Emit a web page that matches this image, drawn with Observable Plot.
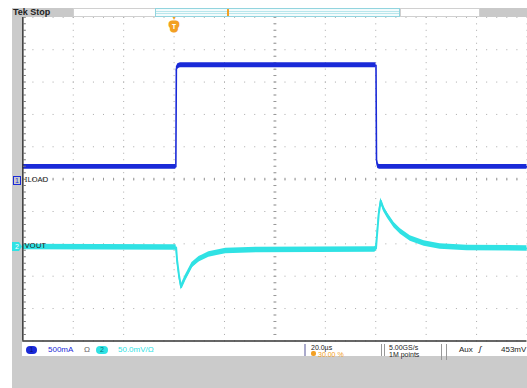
<!DOCTYPE html>
<html><head><meta charset="utf-8">
<script src="https://cdn.jsdelivr.net/npm/d3@7"></script>
<script src="https://cdn.jsdelivr.net/npm/@observablehq/plot@0.6"></script>
<style>
html,body{margin:0;padding:0;width:527px;height:388px;overflow:hidden;background:#fff;font-family:"Liberation Sans",Arial,sans-serif}
#wrap{position:relative;width:527px;height:388px;overflow:hidden;background:#fff}
.abs{position:absolute;box-sizing:border-box;white-space:nowrap;font-size:8px;line-height:8px}
#chart{position:absolute;left:0;top:0}
</style></head>
<body><div id="wrap">
<div class="abs" style="left:12px;top:8px;width:10px;height:380px;background:#cbcbcb"></div>
<div class="abs" style="left:12px;top:356px;width:515px;height:32px;background:#cbcbcb"></div>
<div id="chart"></div>
</div>
<script>
// ---- data read from the scope capture ----
const timeTicks = [-60, -40, -20, 0, 20, 40, 60, 80, 100, 120, 140]; // µs, 20 µs/div
const divTicks = [-5, -4, -3, -2, -1, 0, 1, 2, 3, 4, 5];
const iloadTime = [-60, 0.7, 0.9, 1.5, 2.5, 80.1, 80.3, 80.8, 81.5, 140];
const iloadMA   = [190, 190, 1700, 1745, 1760, 1760, 300, 200, 190, 190];
const voutTime = [-60, 0.8, 1.2, 2.0, 2.8, 4.4, 7.1, 9.9, 13.8, 20.5, 33.5, 79.6, 80.1, 80.4, 81.2, 82.0, 83.1, 84.7, 87.3, 89.8, 93.7, 99.2, 105.5, 116.2, 140];
const voutMV   = [-2.3, -3, -23, -47.6, -64.4, -50.6, -30.7, -21.5, -13.8, -8.4, -6.9, -6.1, -4.6, 10.7, 49, 69, 56.8, 46, 31.1, 21.5, 10.7, 3.1, -1.5, -3.8, -4.6];
// channel settings
const ch1Scale = 500, ch1Offset = 0;      // mA/div, div
const ch2Scale = 50,  ch2Offset = -2.05;  // mV/div, div
const triggerTime = [0];

const iload = iloadTime.map((t, i) => ({t, div: iloadMA[i] / ch1Scale + ch1Offset}));
const vout = voutTime.map((t, i) => ({t, div: voutMV[i] / ch2Scale + ch2Offset}));

const blue = "#1a2ad8", cyan = "#30e2e4", orange = "#f2a024";
const bandB = 0.075, bandC = 0.085; // noise band half-width (div)

const chart = Plot.plot({
  width: 531, height: 388,
  marginLeft: 22.5, marginRight: 0.5, marginTop: 17, marginBottom: 45,
  x: {domain: [-60, 140], axis: null},
  y: {domain: [-5, 5], axis: null},
  style: {background: "transparent", overflow: "visible"},
  marks: [
    Plot.frame({fill: "white", stroke: null}),
    Plot.ruleX(timeTicks, {stroke: "#a8a8a8", strokeWidth: 1, strokeDasharray: "1,5.52"}),
    Plot.ruleY(divTicks, {stroke: "#a8a8a8", strokeWidth: 1, strokeDasharray: "1,9.16"}),
    Plot.ruleX([40], {stroke: "#999", strokeWidth: 3, strokeDasharray: "1,5.52"}),
    Plot.ruleY([0], {stroke: "#999", strokeWidth: 3, strokeDasharray: "1,9.16"}),
    Plot.areaY(vout, {x: "t", y1: d => d.div - bandC, y2: d => d.div + bandC, fill: cyan}),
    Plot.line(vout, {x: "t", y: "div", stroke: cyan, strokeWidth: 2}),
    Plot.areaY(iload, {x: "t", y1: d => d.div - bandB, y2: d => d.div + bandB, fill: blue}),
    Plot.line(iload, {x: "t", y: "div", stroke: blue, strokeWidth: 1.6}),
    Plot.ruleX([-60], {stroke: "#333", strokeWidth: 1.5}),
    Plot.ruleX([-60], {stroke: "#777", strokeWidth: 3, dx: 1.5, strokeDasharray: "1,5.52"}),
    Plot.ruleY([-5], {stroke: "#333", strokeWidth: 1.5}),
    Plot.text(triggerTime, {x: d => d, frameAnchor: "top", dy: -2, text: () => "▼", fill: orange, fontSize: 6}),
    Plot.text(triggerTime, {x: d => d, frameAnchor: "top", dy: 7, text: () => "T", fill: "#fff", stroke: orange, strokeWidth: 7, paintOrder: "stroke", fontSize: 7, fontWeight: "bold"}),
    Plot.text([ch1Offset], {y: d => d, frameAnchor: "left", dx: 2, text: () => "ILOAD", fill: "#222", fontSize: 8}),
    Plot.text([ch2Offset], {y: d => d, frameAnchor: "left", dx: 2, text: () => "VOUT", fill: "#222", fontSize: 8})
  ]
});
document.getElementById("chart").appendChild(chart);

const wrap = document.getElementById("wrap");
function box(style, html = "") {
  const d = document.createElement("div");
  d.className = "abs";
  d.setAttribute("style", style);
  d.innerHTML = html;
  wrap.appendChild(d);
}
// top bar
box("left:12px;top:8px;width:61px;height:9px;background:#c9c9c9");
box("left:13px;top:8px;font-weight:bold;font-size:9px;line-height:9px;color:#222", "Tek Stop");
box("left:73px;top:8px;width:83px;height:9px;background:#fff;border:1px solid #d0d0d0");
box("left:155px;top:8px;width:245px;height:9px;background:#f3fbfc;border:1px solid #92d4de");
box("left:156px;top:11px;width:243px;height:3px;border-top:1px solid #b8e6ec;border-bottom:1px solid #b8e6ec");
box("left:227px;top:9px;width:2px;height:7px;background:" + orange);
box("left:400px;top:8px;width:80px;height:9px;background:#fff;border:1px solid #d0d0d0");
box("left:480px;top:8px;width:47px;height:9px;background:#c9c9c9");
// channel markers on the left strip
box("left:13px;top:176px;width:8px;height:9px;border:1px solid " + blue + ";color:" + blue + ";font-size:7px;line-height:7px;text-align:center", "1");
box("left:12px;top:242px;width:10px;height:9px;background:" + cyan + ";color:#fff;font-size:7px;line-height:9px;text-align:center;clip-path:polygon(0 0,70% 0,100% 50%,70% 100%,0 100%)", "2");
// status row
box("left:22px;top:344px;width:505px;height:12px;background:#fff");
box("left:26px;top:346px;width:11px;height:8px;border-radius:4px;background:" + blue + ";color:#0a1070;font-size:7px;line-height:8px;text-align:center", "1");
box("left:48px;top:346px;color:" + blue, "500mA");
box("left:84px;top:346px;color:#666", "Ω");
box("left:96px;top:346px;width:12px;height:8px;border-radius:4px;background:" + cyan + ";color:#077;font-size:7px;line-height:8px;text-align:center", "2");
box("left:118px;top:346px;color:" + cyan, "50.0mV/Ω");
box("left:304px;top:344px;width:5px;height:12px;border-left:2px solid #aac");
box("left:311px;top:344px;color:#222;font-size:7px;line-height:7px", "20.0µs");
box("left:311px;top:351px;width:5px;height:5px;border-radius:2px;background:" + orange);
box("left:318px;top:351px;color:" + orange + ";font-size:7px;line-height:7px", "30.00 %");
box("left:381px;top:344px;width:4px;height:12px;border-left:1px solid #999;border-right:1px solid #999");
box("left:389px;top:344px;color:#222;font-size:7px;line-height:7px", "5.00GS/s");
box("left:389px;top:351px;color:#222;font-size:7px;line-height:7px", "1M points");
box("left:441px;top:344px;width:6px;height:16px;border-left:1px solid #999;border-right:1px solid #999");
box("left:459px;top:346px;color:#222", "Aux");
box("left:479px;top:345px;color:#222;font-style:italic", "ʃ");
box("left:501px;top:346px;color:#222", "453mV");
</script>
</body></html>
